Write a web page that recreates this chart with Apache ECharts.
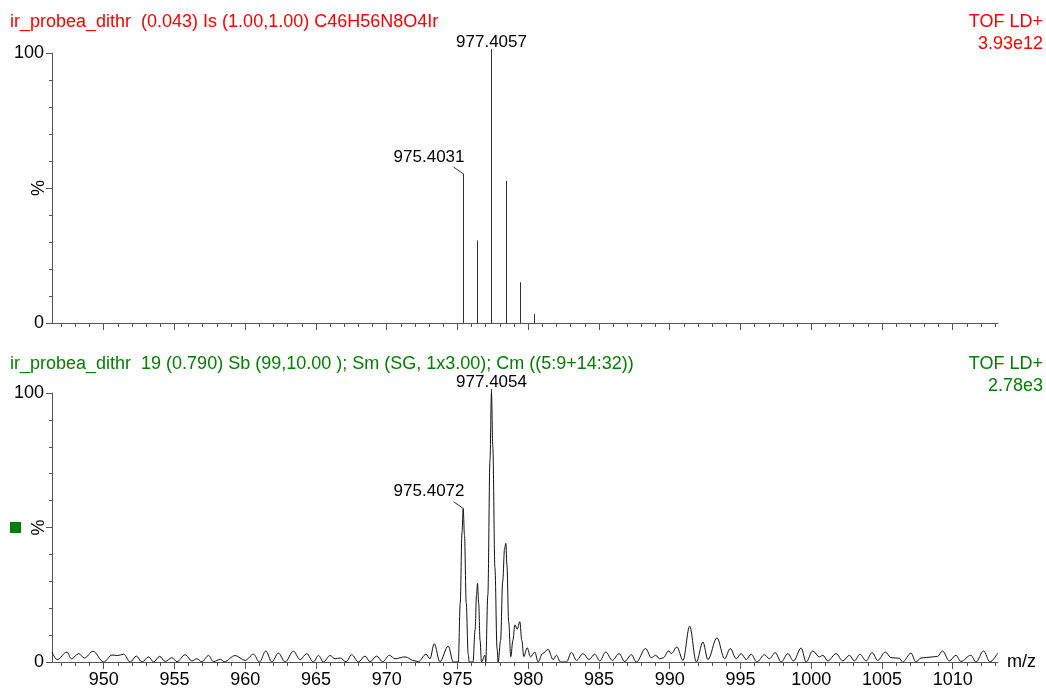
<!DOCTYPE html>
<html>
<head>
<meta charset="utf-8">
<title>ir_probea_dithr</title>
<script src="https://cdn.jsdelivr.net/npm/echarts@6/dist/echarts.min.js"></script>
<style>
  html, body { margin: 0; padding: 0; background: #ffffff; }
  #chart { width: 1046px; height: 688px; }
</style>
</head>
<body>
<div id="chart"></div>
<script>
// ---- header texts ----
const topTitle = 'ir_probea_dithr  (0.043) Is (1.00,1.00) C46H56N8O4Ir';
const topMode = 'TOF LD+';
const topScale = '3.93e12';
const bottomTitle = 'ir_probea_dithr  19 (0.790) Sb (99,10.00 ); Sm (SG, 1x3.00); Cm ((5:9+14:32))';
const bottomMode = 'TOF LD+';
const bottomScale = '2.78e3';

// ---- m/z axis ----
const mzMin = 946.35;
const mzMax = 1013.2;
const majorTicks = [950, 955, 960, 965, 970, 975, 980, 985, 990, 995, 1000, 1005, 1010];
const minorTicks = [];
for (let m = 947; m <= 1013; m++) minorTicks.push(m);
const yLabelTicks = [0, 100];
const yMajorTicks = [0, 50, 100];
const yMinorTicks = [10, 20, 30, 40, 60, 70, 80, 90];

// ---- theoretical isotope pattern (top panel, sticks) ----
const stickMz  = [975.4031, 976.41, 977.4057, 978.41, 979.42, 980.42];
const stickPct = [55.2, 30.6, 100, 52.6, 15.1, 3.3];
const topPeakLabels = [[975.4031, 55.2], [977.4057, 100]];

// ---- measured spectrum (bottom panel, profile) ----
const profileMz = [
  946.35, 946.71, 947.41, 947.72, 948.24, 948.64, 949.25, 950.00, 950.59, 950.99,
  951.41, 951.88, 952.31, 952.71, 953.18, 953.53, 953.95, 954.35, 954.82, 955.18,
  955.76, 956.24, 956.59, 956.94, 957.41, 957.76, 958.24, 958.52, 959.29, 960.00,
  960.59, 961.01, 961.46, 961.88, 962.35, 962.82, 963.41, 963.88, 964.35, 964.82,
  965.18, 965.53, 966.00, 966.35, 966.71, 967.13, 967.53, 968.00, 968.47, 968.82,
  969.29, 969.72, 970.19, 970.59, 971.29, 972.00, 972.24, 972.78, 973.06, 973.36,
  973.76, 974.35, 974.71, 975.06, 975.20, 975.32, 975.4072, 975.50, 975.62, 975.76,
  975.83, 976.10, 976.25, 976.35, 976.42, 976.50, 976.60, 976.70, 976.94, 977.00,
  977.15, 977.30, 977.4054, 977.50, 977.65, 977.80, 977.88, 978.05, 978.20, 978.33,
  978.42, 978.50, 978.62, 978.77, 978.92, 979.06, 979.22, 979.41, 979.55, 979.69,
  979.93, 980.16, 980.47, 980.70, 981.01, 981.41, 981.76, 982.00, 982.28, 982.70,
  983.06, 983.41, 983.88, 984.30, 984.70, 985.06, 985.48, 985.95, 986.42, 986.82,
  987.29, 987.64, 988.30, 988.70, 989.01, 989.29, 989.53, 989.93, 990.11, 990.51,
  990.94, 991.41, 991.88, 992.35, 992.70, 993.34, 993.88, 994.28, 994.70, 995.05,
  995.41, 995.76, 996.16, 996.70, 997.05, 997.45, 997.88, 998.35, 998.75, 999.29,
  999.64, 1000.11, 1000.58, 1000.82, 1001.17, 1001.76, 1002.23, 1002.70, 1003.05, 1003.45,
  1003.88, 1004.30, 1004.70, 1005.24, 1005.64, 1006.23, 1006.46, 1007.05, 1007.40, 1007.76,
  1008.58, 1008.93, 1009.28, 1009.76, 1010.23, 1010.58, 1011.28, 1011.64, 1012.18, 1012.63,
  1013.17
];
const profilePct = [
  3.7, 0.9, 3.7, 1.2, 3.1, 1.5, 4.0, 0, 2.6, 2.4,
  2.9, 0, 2.2, 0, 1.9, 0, 2.1, 0.2, 1.6, 0.1,
  2.7, 0.4, 1.2, 0.1, 2.4, 0.1, 1.0, 0.1, 2.4, 0.6,
  2.9, 0, 4.1, 0, 3.3, 0, 4.0, 0.9, 3.1, 0,
  2.4, 0, 2.4, 1.2, 1.5, 0.1, 2.7, 0, 2.2, 0.1,
  2.2, 0.1, 2.5, 1.2, 1.9, 0.4, 0.1, 2.9, 1.2, 6.8,
  0.1, 5.9, 0, 0, 22, 48, 57, 47, 22, 3,
  0, 0, 12, 25, 29.2, 22, 8, 0, 2.5, 0,
  25, 75, 100, 80, 35, 5, 0, 8, 30, 42,
  44.1, 36, 15, 2, 8, 13.8, 12.2, 15, 8, 2,
  5.3, 1.9, 3.7, 0, 3.1, 4.7, 0.9, 2.5, 0, 0,
  3.6, 0.6, 3.1, 0.9, 2.9, 0.4, 3.7, 0.6, 3.1, 0.2,
  2.7, 0, 5.0, 1.6, 2.5, 1.2, 1.5, 4.1, 3.1, 5.6,
  0.6, 13.3, 0, 7.4, 0.9, 9.0, 1.2, 5.0, 1.2, 3.1,
  0.9, 2.9, 0, 2.7, 1.2, 3.5, 0, 3.1, 0.4, 5.2,
  0, 4.1, 1.9, 2.5, 0.4, 3.1, 0.4, 2.5, 0.4, 2.9,
  0.4, 3.5, 0.6, 3.7, 1.6, 1.4, 0, 3.3, 0, 1.5,
  1.9, 2.1, 4.1, 0.4, 2.5, 0.2, 2.5, 0, 4.1, 0,
  3.3
];
const bottomPeakLabels = [[975.4072, 57], [977.4054, 100]];

// ---- look ----
const FONT = '"Liberation Sans", Arial, Helvetica, sans-serif';
const RED = '#ff0000';
const GREEN = '#008000';
const AXIS = '#555555';
const INK = '#111111';

const chart = echarts.init(document.getElementById('chart'), null, { renderer: 'canvas' });

const plainNumber = v => String(v);

function xAxesFor(grid, withLabels) {
  return [
    {
      type: 'value', gridIndex: grid, min: mzMin, max: mzMax, position: 'bottom',
      axisLine: { show: true, onZero: false, lineStyle: { color: AXIS, width: 1 } },
      axisTick: { show: true, customValues: majorTicks, length: 7, lineStyle: { color: AXIS, width: 1 } },
      axisLabel: { show: withLabels, customValues: majorTicks, formatter: plainNumber,
                   color: '#000', fontSize: 18, fontFamily: FONT, margin: 9 },
      splitLine: { show: false },
      name: withLabels ? 'm/z' : '', nameLocation: 'end', nameGap: 9, nameMoveOverlap: false,
      nameTextStyle: { color: '#000', fontSize: 18, fontFamily: FONT, padding: [16, 0, 0, 0] }
    },
    {
      type: 'value', gridIndex: grid, min: mzMin, max: mzMax, position: 'bottom', offset: 0,
      axisLine: { show: false },
      axisTick: { show: true, customValues: minorTicks, length: 4, lineStyle: { color: AXIS, width: 1 } },
      axisLabel: { show: false },
      splitLine: { show: false }
    }
  ];
}

function yAxesFor(grid) {
  return [
    {
      type: 'value', gridIndex: grid, min: 0, max: 100, position: 'left',
      axisLine: { show: true, lineStyle: { color: AXIS, width: 1 } },
      axisTick: { show: true, customValues: yMajorTicks, length: 6, lineStyle: { color: AXIS, width: 1 } },
      axisLabel: { show: true, customValues: yLabelTicks, formatter: plainNumber,
                   color: '#000', fontSize: 18, fontFamily: FONT, margin: 8 },
      splitLine: { show: false },
      name: '%', nameLocation: 'middle', nameRotate: 90, nameGap: 4, nameMoveOverlap: false,
      nameTextStyle: { color: '#000', fontSize: 18, fontFamily: FONT }
    },
    {
      type: 'value', gridIndex: grid, min: 0, max: 100, position: 'left', offset: 0,
      axisLine: { show: false },
      axisTick: { show: true, customValues: yMinorTicks, length: 3, lineStyle: { color: AXIS, width: 1 } },
      axisLabel: { show: false },
      splitLine: { show: false }
    }
  ];
}

// vertical stick from the baseline up to each intensity
function renderStick(params, api) {
  const base = api.coord([api.value(0), 0]);
  const tip = api.coord([api.value(0), api.value(1)]);
  const x = Math.round(base[0]) + 0.5;
  return {
    type: 'line',
    shape: { x1: x, y1: base[1], x2: x, y2: tip[1] },
    style: { stroke: '#333333', lineWidth: 1 }
  };
}

// m/z annotation: base peak labelled straight above, other peaks with a slanted leader
function renderPeakLabel(params, api) {
  const mz = api.value(0);
  const pct = api.value(1);
  const p = api.coord([mz, pct]);
  const px = Math.round(p[0]) + 0.5;
  const label = mz.toFixed(4);
  const font = '17px ' + FONT;
  if (pct >= 100) {
    return {
      type: 'group',
      children: [
        { type: 'line', shape: { x1: px, y1: p[1], x2: px, y2: p[1] - 4 }, style: { stroke: '#333', lineWidth: 1 } },
        { type: 'text', x: px, y: p[1] - 11,
          style: { text: label, fill: '#000', font: font, align: 'center', verticalAlign: 'middle' } }
      ]
    };
  }
  return {
    type: 'group',
    children: [
      { type: 'line', shape: { x1: px, y1: p[1], x2: px - 10, y2: p[1] - 7 }, style: { stroke: '#333', lineWidth: 1 } },
      { type: 'text', x: px + 1, y: p[1] - 17,
        style: { text: label, fill: '#000', font: font, align: 'right', verticalAlign: 'middle' } }
    ]
  };
}

const sticks = stickMz.map((m, i) => [m, stickPct[i]]);
const profile = profileMz.map((m, i) => [m, profilePct[i]]);

function headerTitle(text, color, pos) {
  return Object.assign({
    text: text, padding: 0,
    textStyle: { color: color, fontSize: 18, fontWeight: 'normal', fontFamily: FONT }
  }, pos);
}

const option = {
  animation: false,
  backgroundColor: '#ffffff',
  title: [
    headerTitle(topTitle, RED, { left: 10, top: 13 }),
    headerTitle(topMode, RED, { right: 3, top: 13 }),
    headerTitle(topScale, RED, { right: 3, top: 35 }),
    headerTitle(bottomTitle, GREEN, { left: 10, top: 355 }),
    headerTitle(bottomMode, GREEN, { right: 3, top: 355 }),
    headerTitle(bottomScale, GREEN, { right: 3, top: 377 })
  ],
  graphic: [
    { type: 'rect', left: 10, top: 522, shape: { width: 11, height: 11 }, style: { fill: GREEN } }
  ],
  grid: [
    { left: 52, right: 48, top: 53, height: 270, containLabel: false, outerBoundsMode: 'none' },
    { left: 52, right: 48, top: 393, height: 269, containLabel: false, outerBoundsMode: 'none' }
  ],
  xAxis: [].concat(xAxesFor(0, false), xAxesFor(1, true)),
  yAxis: [].concat(yAxesFor(0), yAxesFor(1)),
  series: [
    {
      name: 'theoretical', type: 'custom', xAxisIndex: 0, yAxisIndex: 0,
      renderItem: renderStick, data: sticks, clip: false, silent: true
    },
    {
      name: 'theoretical labels', type: 'custom', xAxisIndex: 0, yAxisIndex: 0,
      renderItem: renderPeakLabel, data: topPeakLabels, clip: false, silent: true
    },
    {
      name: 'measured', type: 'line', xAxisIndex: 2, yAxisIndex: 2,
      data: profile, showSymbol: false, symbol: 'none',
      smooth: 0.35, smoothMonotone: 'x',
      lineStyle: { color: INK, width: 1 }, silent: true
    },
    {
      name: 'measured labels', type: 'custom', xAxisIndex: 2, yAxisIndex: 2,
      renderItem: renderPeakLabel, data: bottomPeakLabels, clip: false, silent: true
    }
  ]
};

chart.setOption(option);
</script>
</body>
</html>
